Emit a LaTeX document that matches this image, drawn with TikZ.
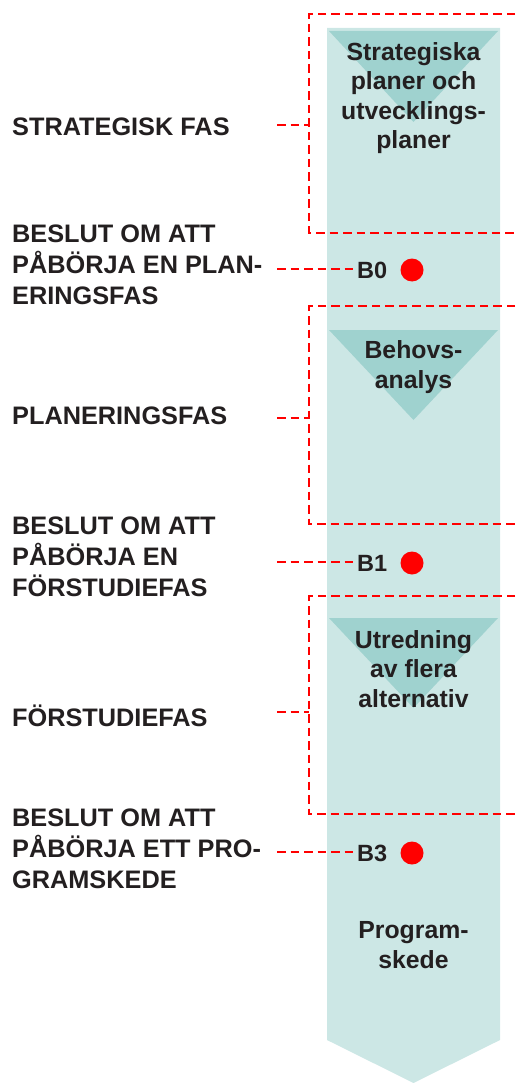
\documentclass[tikz,border=0pt]{standalone}
\usepackage{fontspec}
\setmainfont{Liberation Sans}
\definecolor{lightteal}{HTML}{CCE7E5}
\definecolor{darkteal}{HTML}{9FD2CF}
\definecolor{ink}{HTML}{231F20}
\definecolor{redd}{HTML}{FF0000}
\begin{document}
\begin{tikzpicture}[x=1pt,y=-1pt,
 lbl/.style={anchor=west, align=left, font=\fontsize{25.3}{31}\selectfont\bfseries, text=ink, inner sep=0},
 coltxt/.style={align=center, font=\fontsize{24.8}{29.5}\selectfont\bfseries, text=ink, inner sep=0},
 btxt/.style={anchor=west, font=\fontsize{23.5}{26}\selectfont\bfseries, text=ink, inner sep=0},
 reddash/.style={draw=redd, line width=2.7pt, dash pattern=on 8.5pt off 5pt},
 reddot/.style={circle, fill=redd, minimum size=23pt, inner sep=0}]
\useasboundingbox (0,0) rectangle (515,1083);
% column
\fill[lightteal] (327,28) -- (500,28) -- (500,1040) -- (413.5,1083) -- (327,1040) -- cycle;
% triangles
\fill[darkteal] (329,31) -- (498,31) -- (413.5,122) -- cycle;
\fill[darkteal] (329,330) -- (498,330) -- (413.5,420) -- cycle;
\fill[darkteal] (329,618) -- (498,618) -- (413.5,708) -- cycle;
% phase boxes
\draw[reddash] (515,14) -- (309,14) -- (309,233) -- (515,233);
\draw[reddash] (515,306) -- (309,306) -- (309,524) -- (515,524);
\draw[reddash] (515,596) -- (309,596) -- (309,814) -- (515,814);
% column texts
\node[coltxt] (t1) at (413.5,98) {Strategiska\\planer och\\utvecklings-\\planer};
\node[coltxt] (t2) at (413.5,367) {Behovs-\\analys};
\node[coltxt] (t3) at (413.5,669) {Utredning\\av flera\\alternativ};
\node[coltxt] (t4) at (413.5,945) {Program-\\skede};
% left labels
\node[lbl] (l1) at (12,127) {STRATEGISK FAS};
\node[lbl] (l2) at (12,265) {BESLUT OM ATT\\PÅBÖRJA EN PLAN-\\ERINGSFAS};
\node[lbl] (l3) at (12,416) {PLANERINGSFAS};
\node[lbl] (l4) at (12,557) {BESLUT OM ATT\\PÅBÖRJA EN\\FÖRSTUDIEFAS};
\node[lbl] (l5) at (12,716) {FÖRSTUDIEFAS};
\node[lbl] (l6) at (12,849) {BESLUT OM ATT\\PÅBÖRJA ETT PRO-\\GRAMSKEDE};
% decision points
\node[btxt] (b0) at (357,270) {B0};
\node[btxt] (b1) at (357,563) {B1};
\node[btxt] (b3) at (357,853) {B3};
\node[reddot] (d0) at (412,270) {};
\node[reddot] (d1) at (412,563) {};
\node[reddot] (d3) at (412,853) {};
% connector end points
\coordinate (s1) at (277,125); \coordinate (e1) at (309,125);
\coordinate (s3) at (277,418); \coordinate (e3) at (309,418);
\coordinate (s5) at (277,712); \coordinate (e5) at (309,712);
\coordinate (s2) at (277,269);
\coordinate (s4) at (277,562);
\coordinate (s6) at (277,852);
\draw[reddash] (s1) -- (e1);
\draw[reddash] (s3) -- (e3);
\draw[reddash] (s5) -- (e5);
\draw[reddash] (s2) -- ([xshift=-4pt]b0.west |- s2);
\draw[reddash] (s4) -- ([xshift=-4pt]b1.west |- s4);
\draw[reddash] (s6) -- ([xshift=-4pt]b3.west |- s6);
\end{tikzpicture}
\end{document}
